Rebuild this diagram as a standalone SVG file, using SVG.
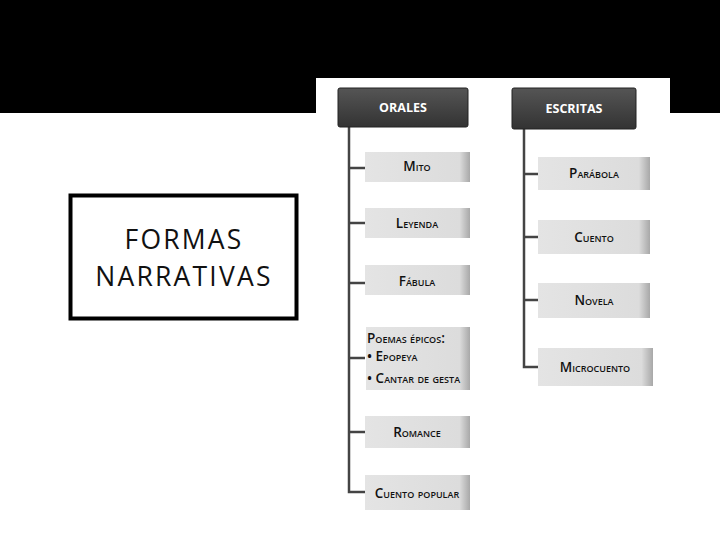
<svg xmlns="http://www.w3.org/2000/svg" width="720" height="540" viewBox="0 0 720 540">
<defs>
<linearGradient id="g" x1="0" y1="0" x2="1" y2="0"><stop offset="0" stop-color="#e4e4e4"/><stop offset="0.9" stop-color="#dcdcdc"/><stop offset="1" stop-color="#a8a8a8"/></linearGradient>
<linearGradient id="h" x1="0" y1="0" x2="0" y2="1"><stop offset="0" stop-color="#555"/><stop offset="1" stop-color="#333"/></linearGradient>
</defs>
<style>
.it{fill:url(#g);}
.hd{fill:url(#h);stroke:#222;stroke-width:1}
.t{font-family:"Open Sans","DejaVu Sans",sans-serif;font-variant:small-caps;font-weight:600;font-size:13.5px;fill:#111;text-anchor:middle;}
.ht{font-family:"Open Sans","DejaVu Sans",sans-serif;font-weight:bold;font-size:12.5px;fill:#fff;text-anchor:middle;}
.ln{stroke:#444;stroke-width:2.5;fill:none}
.tt{font-family:"Open Sans","DejaVu Sans",sans-serif;font-size:26.5px;text-anchor:middle;fill:#111;letter-spacing:2.2px}
</style>
<rect width="720" height="540" fill="#fff"/>
<rect width="720" height="113" fill="#000"/>
<rect x="316" y="78" width="354" height="434" fill="#fff"/>
<g id="title">
<rect x="70.5" y="195.5" width="226" height="123" fill="#fff" stroke="#000" stroke-width="4"/>
<text class="tt" x="184" y="249">FORMAS</text>
<text class="tt" x="184" y="286">NARRATIVAS</text>
</g>
<g id="connectors">
<path class="ln" d="M349 127V492H365M349 168H365M349 223H365M349 283H365M349 358H365M349 432H365"/>
<path class="ln" d="M524 129V367H538M524 174H538M524 237H538M524 300H538"/>
</g>
<g id="orales"><rect class="hd" x="338" y="88" width="130" height="39" rx="2"/><text class="ht" x="403" y="112">ORALES</text></g>
<g id="escritas"><rect class="hd" x="512" y="88" width="124" height="41" rx="2"/><text class="ht" x="574" y="113">ESCRITAS</text></g>
<g id="mito"><rect class="it" x="365" y="152" width="105" height="30"/><text class="t" x="417" y="171">Mito</text></g>
<g id="leyenda"><rect class="it" x="365" y="208" width="105" height="30"/><text class="t" x="417" y="228">Leyenda</text></g>
<g id="fabula"><rect class="it" x="365" y="265" width="105" height="30"/><text class="t" x="417" y="286">Fábula</text></g>
<g id="poemas"><rect class="it" x="366" y="327" width="104" height="63"/>
<text class="t" x="367" y="343" style="text-anchor:start">Poemas épicos:</text>
<text class="t" x="367" y="361" style="text-anchor:start">• Epopeya</text>
<text class="t" x="367" y="383" style="text-anchor:start">• Cantar de gesta</text></g>
<g id="romance"><rect class="it" x="365" y="416" width="105" height="32"/><text class="t" x="417" y="437">Romance</text></g>
<g id="cuentopop"><rect class="it" x="365" y="475" width="105" height="35"/><text class="t" x="417" y="498">Cuento popular</text></g>
<g id="parabola"><rect class="it" x="538" y="157" width="112" height="33"/><text class="t" x="594" y="178">Parábola</text></g>
<g id="cuento"><rect class="it" x="538" y="220" width="112" height="34"/><text class="t" x="594" y="242">Cuento</text></g>
<g id="novela"><rect class="it" x="538" y="283" width="112" height="35"/><text class="t" x="594" y="305">Novela</text></g>
<g id="microcuento"><rect class="it" x="538" y="348" width="115" height="38"/><text class="t" x="595" y="372">Microcuento</text></g>
</svg>
